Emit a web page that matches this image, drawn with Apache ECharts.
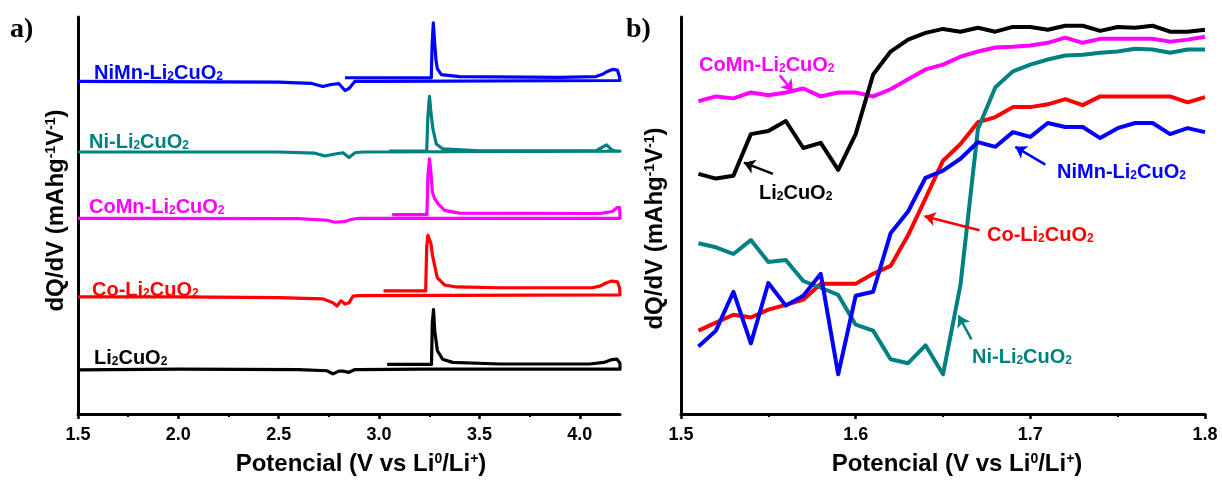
<!DOCTYPE html>
<html>
<head>
<meta charset="utf-8">
<script src="https://cdn.jsdelivr.net/npm/echarts@6/dist/echarts.min.js"></script>
<style>
html,body{margin:0;padding:0;background:#fff;}
#chart{width:1222px;height:481px;}
</style>
</head>
<body>
<div id="chart"></div>
<script>
// panel a) full dQ/dV curves, [V, dQ/dV a.u.] charge part then discharge part
const aLi2CuO2 = [[3.04,1.25],[3.261,1.25],[3.265,2.3],[3.271,2.63],[3.277,2.1],[3.29,1.6],[3.316,1.38],[3.366,1.3],[3.6,1.26],[4.05,1.26],[4.12,1.3],[4.16,1.37],[4.185,1.38],[4.2,1.28],
  [4.2,1.13],[3.2,1.13],[2.9,1.12],[2.88,1.12],[2.85,1.05],[2.82,1.08],[2.8,1.08],[2.77,1.01],[2.74,1.09],[2.6,1.12],[2.0,1.13],[1.5,1.11]]
const aCo = [[3.022,3.1],[3.232,3.1],[3.237,4.2],[3.243,4.5],[3.251,4.5],[3.258,4.3],[3.266,4.0],[3.276,3.75],[3.29,3.43],[3.326,3.25],[3.385,3.2],[3.6,3.18],[4.06,3.18],[4.1,3.22],[4.13,3.3],[4.16,3.35],[4.187,3.33],[4.198,3.18],[4.2,3.0],
  [4.2,2.96],[2.9,2.98],[2.87,2.97],[2.85,2.8],[2.83,2.77],[2.81,2.85],[2.79,2.72],[2.77,2.8],[2.72,2.9],[2.5,2.93],[2.0,2.95],[1.5,2.95]]
const aCoMn = [[3.065,5.02],[3.238,5.02],[3.243,6.0],[3.251,6.43],[3.258,6.1],[3.265,5.6],[3.276,5.43],[3.293,5.3],[3.326,5.13],[3.4,5.06],[4.1,5.05],[4.162,5.1],[4.187,5.2],[4.198,5.2],[4.2,5.0],
  [4.2,4.93],[2.9,4.93],[2.86,4.9],[2.83,4.85],[2.78,4.83],[2.74,4.88],[2.6,4.92],[1.5,4.93]]
const aNi = [[3.05,6.62],[3.237,6.63],[3.243,7.5],[3.251,8.0],[3.258,7.6],[3.268,7.18],[3.285,6.8],[3.316,6.68],[3.5,6.63],[4.08,6.63],[4.105,6.7],[4.133,6.78],[4.155,6.67],[4.175,6.62],[4.2,6.62],
  [4.2,6.6],[2.92,6.6],[2.88,6.58],[2.85,6.46],[2.82,6.58],[2.78,6.55],[2.73,6.5],[2.68,6.57],[2.5,6.6],[1.5,6.6]]
const aNiMn = [[2.83,8.47],[3.26,8.47],[3.264,9.3],[3.27,9.85],[3.276,9.4],[3.283,8.93],[3.29,8.7],[3.31,8.55],[3.4,8.5],[3.9,8.48],[4.08,8.5],[4.11,8.55],[4.137,8.63],[4.162,8.68],[4.187,8.66],[4.197,8.5],[4.2,8.4],
  [4.2,8.38],[3.0,8.38],[2.88,8.38],[2.85,8.2],[2.83,8.15],[2.8,8.32],[2.76,8.3],[2.72,8.25],[2.66,8.33],[2.5,8.36],[1.5,8.38]]

// panel b) zoom 1.5 - 1.8 V
const voltB = [1.51,1.52,1.53,1.54,1.55,1.56,1.57,1.58,1.59,1.60,1.61,1.62,1.63,1.64,1.65,1.66,1.67,1.68,1.69,1.70,1.71,1.72,1.73,1.74,1.75,1.76,1.77,1.78,1.79,1.80]
const bLi2CuO2 = [6.05,5.93,6.0,7.05,7.13,7.38,6.7,6.83,6.15,7.05,8.55,9.13,9.43,9.6,9.7,9.63,9.73,9.63,9.75,9.75,9.68,9.78,9.78,9.65,9.75,9.73,9.78,9.63,9.63,9.68]
const bCoMn = [7.88,8.0,7.95,8.1,8.03,8.1,8.2,8.0,8.1,8.1,8.0,8.18,8.43,8.68,8.8,9.0,9.13,9.23,9.25,9.28,9.35,9.48,9.35,9.45,9.45,9.45,9.45,9.38,9.43,9.5]
const bNi = [4.3,4.2,4.03,4.38,3.83,3.88,3.35,3.18,3.0,2.25,2.1,1.38,1.28,1.73,1.0,3.25,7.18,8.23,8.63,8.8,8.93,9.03,9.05,9.1,9.13,9.2,9.18,9.1,9.18,9.18]
const bCo = [2.1,2.3,2.5,2.43,2.63,2.75,2.88,3.28,3.28,3.28,3.53,3.73,4.5,5.43,6.38,6.8,7.35,7.48,7.73,7.73,7.8,7.93,7.78,8.0,8.0,8.0,8.0,8.0,7.85,7.98]
const bNiMn = [1.7,2.1,3.08,1.78,3.3,2.73,2.98,3.53,1.0,2.98,3.08,4.55,5.1,5.95,6.13,6.43,6.85,6.73,7.1,6.98,7.33,7.23,7.23,6.95,7.2,7.33,7.33,7.05,7.2,7.1]

const ticksA = [1.5,2.0,2.5,3.0,3.5,4.0]
const minorA = [1.75,2.25,2.75,3.25,3.75]
const ticksB = [1.5,1.6,1.7,1.8]
const minorB = [1.55,1.65,1.75]

// arrows in panel b: [tail, head] in data units
const arrowLi2CuO2 = [[1.5526,6.05],[1.536,6.33]]
const arrowCoMn = [[1.5566,8.53],[1.564,8.13]]
const arrowNiMn = [[1.7086,6.28],[1.6914,6.73]]
const arrowCo = [[1.6709,4.63],[1.6394,4.98]]
const arrowNi = [[1.6663,1.88],[1.6589,2.48]]

const FONT = 'Liberation Sans'
const BLACK = '#000000', RED = '#ff0000', MAGENTA = '#ff00ff', TEAL = '#008080', BLUE = '#0000ff'

let myChart = echarts.init(document.getElementById('chart'))

function pairs(ys){
	return voltB.map(function(v, i){ return [v, ys[i]] })
}

function lineA(name, data, color){
	return {
		name: name, type: 'line', xAxisIndex: 0, yAxisIndex: 0,
		data: data, showSymbol: false, symbol: 'none',
		lineStyle: {color: color, width: 3.2, join: 'round'},
		itemStyle: {color: color}
	}
}

function lineB(name, ys, color, arrow){
	return {
		name: name, type: 'line', xAxisIndex: 2, yAxisIndex: 1,
		data: pairs(ys), showSymbol: false, symbol: 'none',
		lineStyle: {color: color, width: 4, join: 'round'},
		itemStyle: {color: color},
		markLine: {
			silent: true, animation: false,
			symbol: ['none', 'arrow'], symbolSize: 11,
			label: {show: false},
			lineStyle: {color: color, width: 2.5, type: 'solid'},
			data: [[{coord: arrow[0]}, {coord: arrow[1]}]]
		}
	}
}

function sampleLabel(pre, color, left, top){
	let m = {fontSize: 20, fontWeight: 'bold', fontFamily: FONT, color: color}
	let s = {fontSize: 12, fontWeight: 'bold', fontFamily: FONT, color: color, verticalAlign: 'bottom'}
	return {
		text: '{m|' + pre + 'Li}{s|2}{m|CuO}{s|2}',
		left: left, top: top, padding: 0,
		textStyle: {fontSize: 20, fontWeight: 'bold', fontFamily: FONT, color: color, rich: {m: m, s: s}}
	}
}

function majorX(grid, min, max, ticks, pad){
	return {
		type: 'value', gridIndex: grid, position: 'bottom', min: min, max: max,
		name: 'Potencial (V vs Li{sup|0}/Li{sup|+})',
		nameLocation: 'middle', nameGap: 38,
		nameTextStyle: {
			fontSize: 24, fontWeight: 'bold', fontFamily: FONT, color: BLACK, padding: [0, 0, 0, pad],
			rich: {sup: {fontSize: 14, fontWeight: 'bold', fontFamily: FONT, color: BLACK, verticalAlign: 'top'}}
		},
		axisLine: {lineStyle: {color: BLACK, width: 3}},
		axisTick: {show: true, customValues: ticks, length: 5, lineStyle: {color: BLACK, width: 2.5}},
		minorTick: {show: false},
		axisLabel: {
			customValues: ticks, margin: 12, fontSize: 18, fontWeight: 'bold', fontFamily: FONT, color: BLACK,
			formatter: function(v){ return Number(v).toFixed(1) }
		},
		splitLine: {show: false}
	}
}

function minorX(grid, min, max, ticks){
	return {
		type: 'value', gridIndex: grid, position: 'bottom', min: min, max: max,
		axisLine: {show: false},
		axisTick: {show: true, customValues: ticks, length: 3, lineStyle: {color: BLACK, width: 2}},
		axisLabel: {show: false},
		splitLine: {show: false}
	}
}

function yAx(grid, gap, pad){
	return {
		type: 'value', gridIndex: grid, min: 0, max: 10,
		name: 'dQ/dV (mAhg{sup|-1}V{sup|-1})',
		nameLocation: 'middle', nameRotate: 90, nameGap: gap,
		nameTextStyle: {
			fontSize: 24, fontWeight: 'bold', fontFamily: FONT, color: BLACK, padding: pad,
			rich: {sup: {fontSize: 14, fontWeight: 'bold', fontFamily: FONT, color: BLACK, verticalAlign: 'top'}}
		},
		axisLine: {show: true, lineStyle: {color: BLACK, width: 3}},
		axisTick: {show: false},
		axisLabel: {show: false},
		splitLine: {show: false}
	}
}

let option = {
	animation: false,
	backgroundColor: '#ffffff',
	title: [
		{text: 'a)', left: 10, top: 16, padding: 0, textStyle: {fontSize: 28, fontWeight: 'bold', fontFamily: 'Liberation Serif', color: BLACK}},
		{text: 'b)', left: 626, top: 16, padding: 0, textStyle: {fontSize: 28, fontWeight: 'bold', fontFamily: 'Liberation Serif', color: BLACK}},
		sampleLabel('NiMn-', BLUE, 94, 63),
		sampleLabel('Ni-', TEAL, 89, 132),
		sampleLabel('CoMn-', MAGENTA, 89, 197),
		sampleLabel('Co-', RED, 92, 280),
		sampleLabel('', BLACK, 94, 348),
		sampleLabel('CoMn-', MAGENTA, 699, 55),
		sampleLabel('', BLACK, 759, 183),
		sampleLabel('NiMn-', BLUE, 1057, 162),
		sampleLabel('Co-', RED, 987, 225),
		sampleLabel('Ni-', TEAL, 972, 347)
	],
	grid: [
		{left: 78, top: 17, width: 542, height: 400},
		{left: 681, top: 17, width: 524, height: 400}
	],
	xAxis: [
		majorX(0, 1.5, 4.2, ticksA, 24),
		minorX(0, 1.5, 4.2, minorA),
		majorX(1, 1.5, 1.8, ticksB, 28),
		minorX(1, 1.5, 1.8, minorB)
	],
	yAxis: [
		yAx(0, 10, [0, 0, 0, 10]),
		yAx(1, 14, [0, 26, 0, 0])
	],
	series: [
		lineA('Li2CuO2', aLi2CuO2, BLACK),
		lineA('Co-Li2CuO2', aCo, RED),
		lineA('CoMn-Li2CuO2', aCoMn, MAGENTA),
		lineA('Ni-Li2CuO2', aNi, TEAL),
		lineA('NiMn-Li2CuO2', aNiMn, BLUE),
		lineB('CoMn-Li2CuO2 b', bCoMn, MAGENTA, arrowCoMn),
		lineB('Co-Li2CuO2 b', bCo, RED, arrowCo),
		lineB('Ni-Li2CuO2 b', bNi, TEAL, arrowNi),
		lineB('NiMn-Li2CuO2 b', bNiMn, BLUE, arrowNiMn),
		lineB('Li2CuO2 b', bLi2CuO2, BLACK, arrowLi2CuO2)
	]
}
myChart.setOption(option)
</script>
</body>
</html>
